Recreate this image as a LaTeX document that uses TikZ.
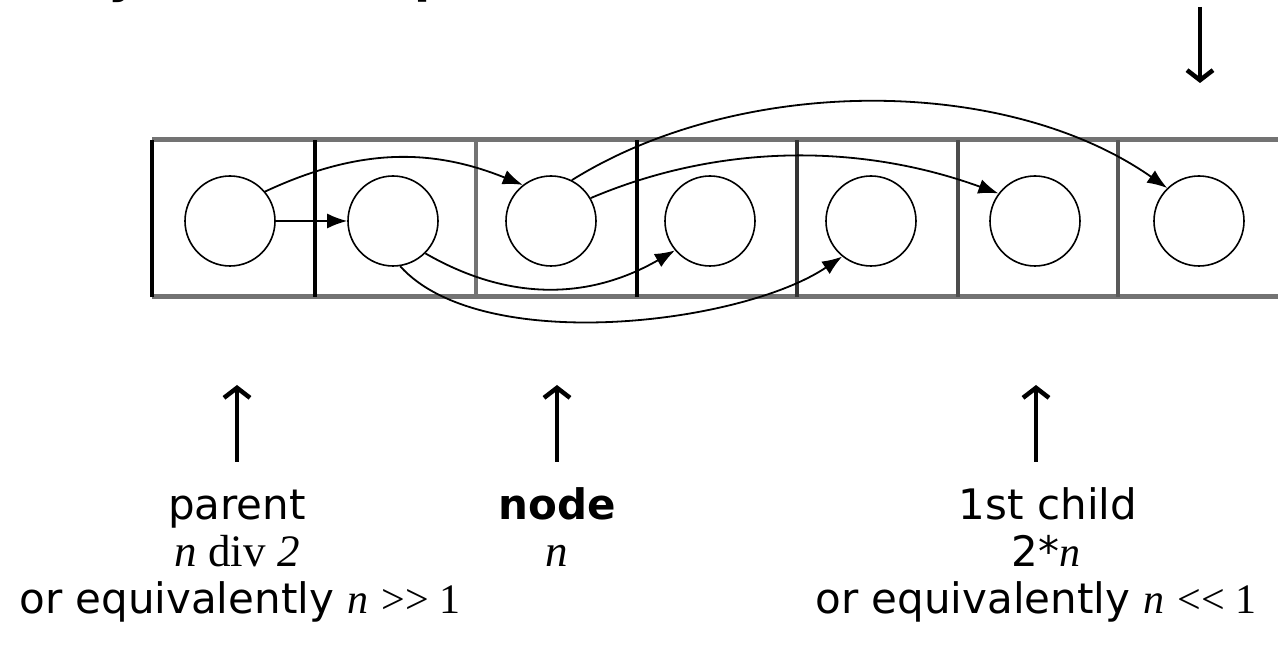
\documentclass[tikz,border=0pt]{standalone}
\usepackage{fontspec}
\setmainfont{DejaVu Sans}
\newfontfamily\sm{Liberation Serif}
\usetikzlibrary{arrows.meta}
\tikzset{
  ball/.style={circle, draw, line width=1.6pt, minimum size=90pt, inner sep=0pt},
  link/.style={line width=1.8pt, -{Latex[length=20pt,width=15pt]}},
  bigarrow/.style={line width=4.5pt, -{Straight Barb[length=10pt,width=26pt,line width=4.5pt]}},
  rail/.style={line width=5pt, draw=black!55},
  wall/.style={line width=3.5pt},
  lab/.style={anchor=base, inner sep=0pt, font=\fontsize{42}{48}\selectfont},
  mlab/.style={anchor=base, inner sep=0pt, font=\fontsize{45}{48}\selectfont},
  ttl/.style={anchor=base west, inner sep=0pt, font=\bfseries\fontsize{47}{56}\selectfont}
}
\begin{document}
\begin{tikzpicture}[x=1pt,y=1pt]
\useasboundingbox (0,0) rectangle (1278,650);
\clip (0,0) rectangle (1278,650);

% cut-off title
\node[ttl] (title) at (-5,657) {Array (no extra pointers needed)};

% array cells
\draw[rail] (152,510) -- (1280,510);
\draw[rail] (152,353) -- (1280,353);
\draw[wall] (152,353) -- (152,510);
\draw[wall] (315,353) -- (315,510);
\draw[wall, draw=black!55] (476,353) -- (476,510);
\draw[wall] (637,353) -- (637,510);
\draw[wall, draw=black!80] (797,353) -- (797,510);
\draw[wall, draw=black!70] (958,353) -- (958,510);
\draw[wall, draw=black!65] (1118,353) -- (1118,510);

% elements
\node[ball] (c1) at (230,429) {};
\node[ball] (c2) at (393,429) {};
\node[ball] (c3) at (551,429) {};
\node[ball] (c4) at (710,429) {};
\node[ball] (c5) at (871,429) {};
\node[ball] (c6) at (1035,429) {};
\node[ball] (c7) at (1199,429) {};

% links
\draw[link] (c1.east) -- (c2.west);
\draw[link] (c1.40) to[out=25,in=158] (c3.128);
\draw[link] (c2.-45) to[out=-30,in=210] (c4.220);
\draw[link] (c2.-81) to[out=-48,in=214,looseness=0.7] (c5.231);
\draw[link] (c3.30) to[out=23,in=160,looseness=0.9] (c6.143);
\draw[link] (c3.63) to[out=32,in=145,looseness=0.85] (c7.134);

% pointer arrows
\coordinate (pa0) at (237,188);
\coordinate (pa1) at (237,265);
\coordinate (na0) at (557,188);
\coordinate (na1) at (557,265);
\coordinate (ca0) at (1036,188);
\coordinate (ca1) at (1036,265);
\coordinate (ta0) at (1200,643);
\coordinate (ta1) at (1200,567);
\draw[bigarrow] (pa0) -- (pa1);
\draw[bigarrow] (na0) -- (na1);
\draw[bigarrow] (ca0) -- (ca1);
\draw[bigarrow] (ta0) -- (ta1);

% labels
\node[lab] (p1) at (237,130) {parent};
\node[mlab] (p2) at (237,83) {\sm\itshape n\/ \upshape div \itshape 2};
\node[lab] (p3) at (240,36) {or equivalently {\sm\itshape n} {\sm >{}> 1}};

\node[lab] (n1) at (557,130) {\bfseries node};
\node[mlab] (n2) at (557,83) {\sm\itshape n};

\node[lab] (k1) at (1048,130) {1st child};
\node[lab] (k2) at (1046,83) {2*{\sm\itshape n}};
\node[lab] (k3) at (1036,36) {or equivalently {\sm\itshape n} {\sm <{}< 1}};
\end{tikzpicture}
\end{document}
